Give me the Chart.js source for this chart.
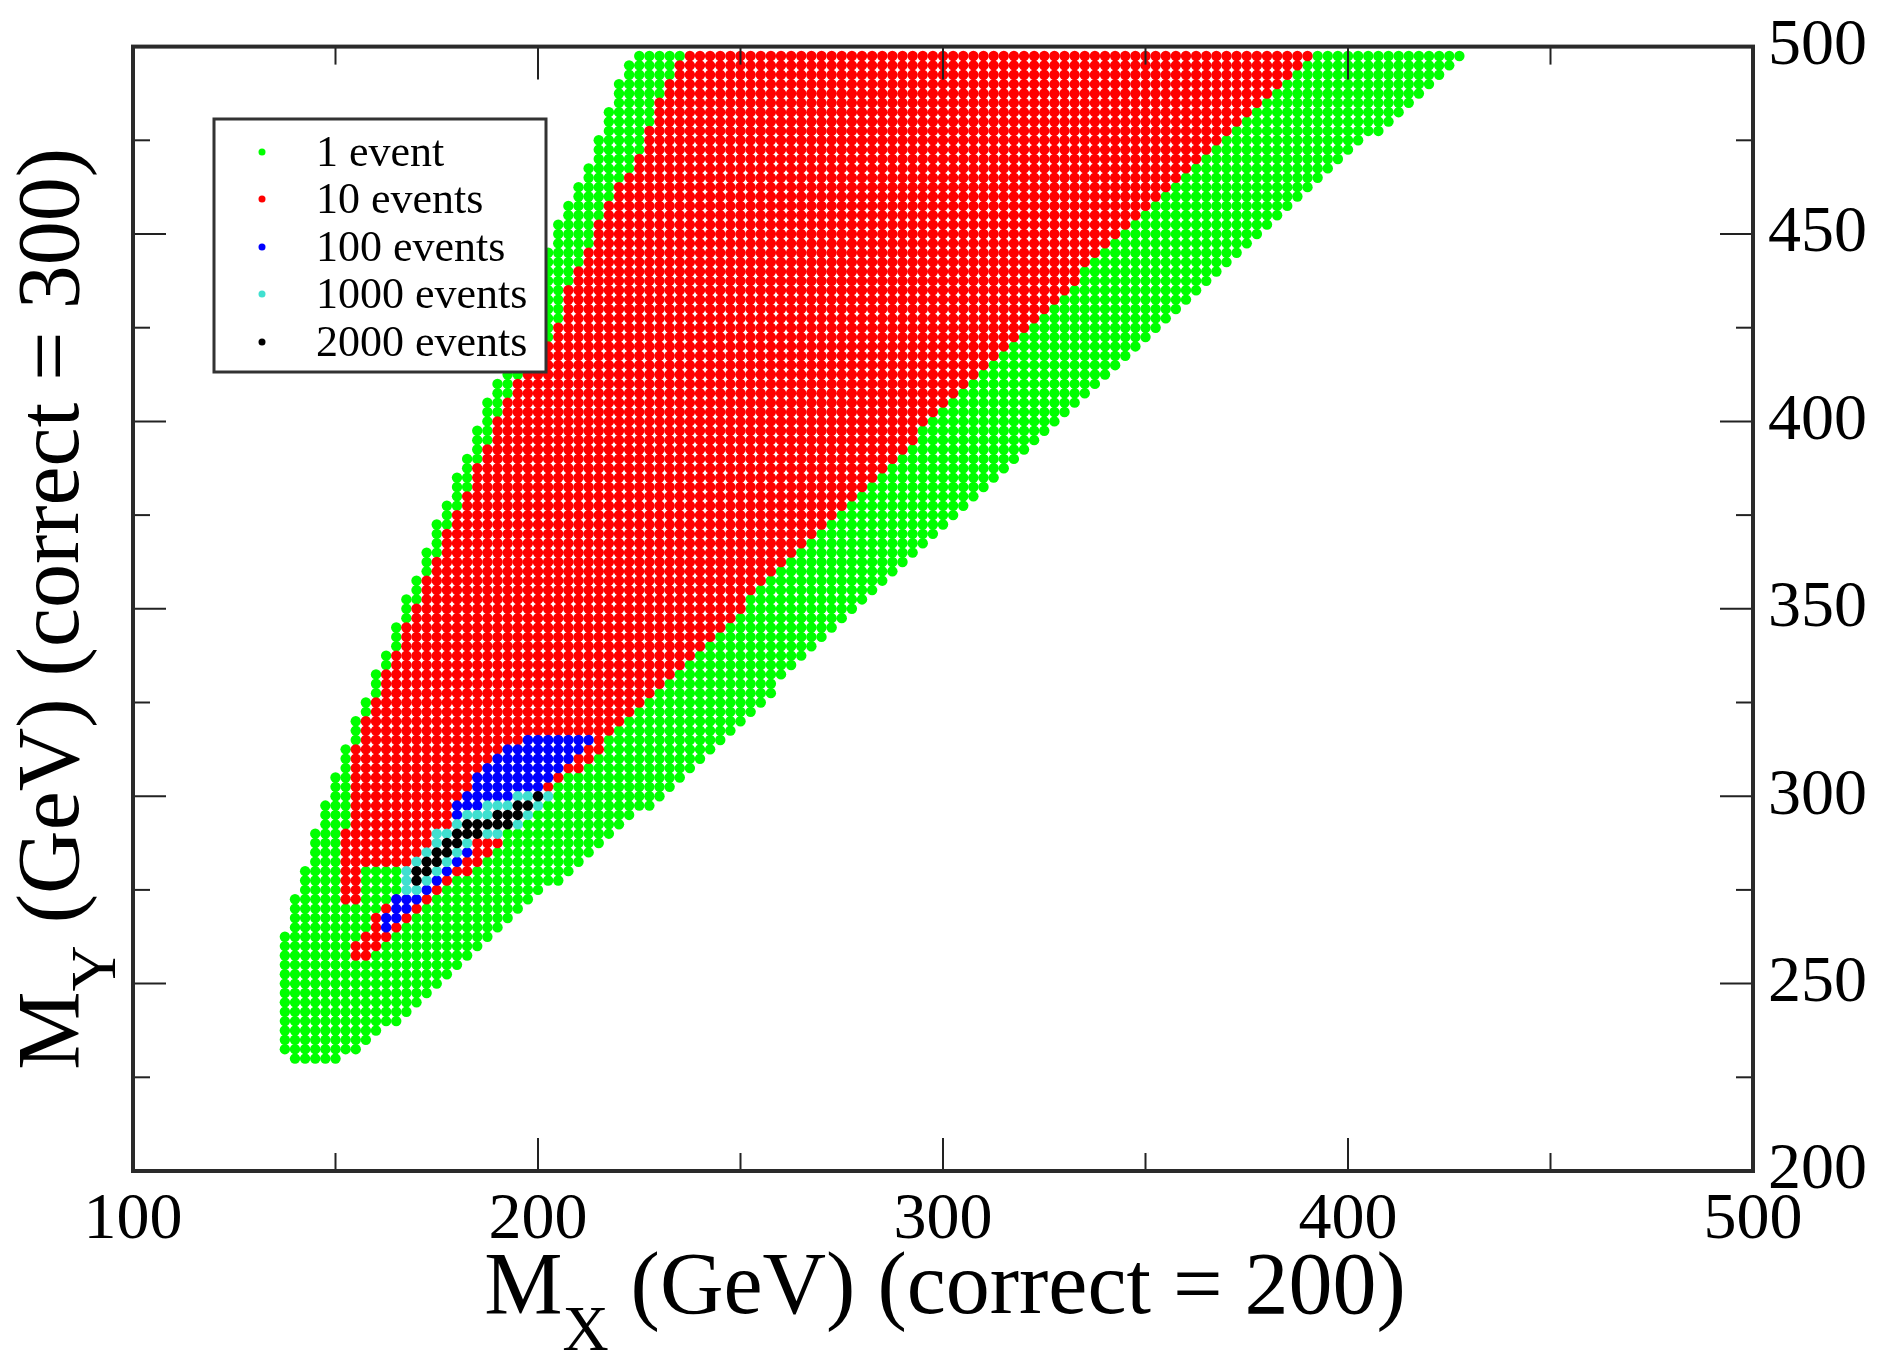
<!DOCTYPE html>
<html>
<head>
<meta charset="utf-8">
<title>M_X vs M_Y scan</title>
<script src="https://cdn.jsdelivr.net/npm/chart.js"></script>
<style>
  html, body { margin: 0; padding: 0; background: #fff; }
  canvas { display: block; }
</style>
</head>
<body>
<canvas id="scanChart" width="1881" height="1352"></canvas>
<script>
// series: number of events needed for each scanned (M_X, M_Y) point
const seriesLabels = ['1 event', '10 events', '100 events', '1000 events', '2000 events'];
const seriesColors = ['#00ff00', '#ff0000', '#0000ff', '#40e0d0', '#000000'];

const xTickValues = [100, 200, 300, 400, 500];
const xMinorTicks = [150, 250, 350, 450];
const yTickValues = [200, 250, 300, 350, 400, 450, 500];
const yMinorTicks = [225, 275, 325, 375, 425, 475];

const xTitleParts = ['M', 'X', ' (GeV) (correct = 200)'];
const yTitleParts = ['M', 'Y', ' (GeV) (correct = 300)'];

// the scan grid (GeV)
const scanStep = 2.5;
const scanXRange = [137.5, 427.5];
const scanYRange = [230, 497.5];

// region outlines, [M_X, M_Y] in GeV
const outline1 = [
  [223.5, 499], [430, 499],
  [378.8, 450], [329.3, 400], [279.8, 350], [226.8, 296.5], [216.1, 287.6], [203.8, 276.2],
  [192.3, 266.5], [186.5, 259.4], [178.3, 251.4], [170, 244], [165.1, 240], [157.7, 233.8],
  [153.6, 231.5], [149.5, 228.8], [138.8, 228.8],
  [136.3, 231.5], [136.3, 257.7], [138.8, 270.4], [141.7, 277.9], [144.1, 288.5], [146.6, 295.6],
  [149.1, 303.1], [151.9, 311], [153.3, 316], [156.9, 324.7], [187.3, 405], [189.5, 410.3],
  [203.5, 448], [206.6, 458], [208.8, 462.4], [214.3, 473], [221, 494]
];
const outline10 = [
  [236, 499], [393, 499],
  [352, 458], [301, 404], [250.5, 350.5], [217, 315.5],
  [215.5, 312.5], [208.5, 306], [205.5, 303.5], [201.5, 298], [198, 296], [194, 291.5],
  [190.5, 288], [186.5, 283.5], [180.5, 278], [175.5, 273],
  [169, 266.5], [163, 262], [158, 256.8], [155, 255.3], [152.8, 255.3],
  [153, 259], [157.5, 264.5], [160.5, 268.5], [164, 273], [166.5, 276], [167, 281],
  [155.8, 281], [155.8, 270.5], [151, 270.5], [151, 291.5], [153.8, 291.5], [153.8, 309],
  [156.5, 318], [159, 325], [193.9, 410.3], [204.9, 425.3], [206, 433.2], [209.4, 441.2],
  [213.2, 448.3], [216.5, 458], [219.8, 462.4], [225.9, 473], [231, 488]
];
const outline100 = [
  [213.5, 317], [200, 316.5], [194, 313.5], [189, 310.5], [185.5, 306], [182.5, 301.5],
  [180, 297.5], [177, 291], [173.5, 287], [170, 281.5], [166.5, 276], [163, 270.5],
  [160.5, 266], [160.5, 262.5], [163.5, 264.5], [167, 268.5], [170.5, 272.5], [174, 276],
  [179, 281], [184, 286.5], [192, 294.5], [199.5, 300.5], [206, 308.5], [213.5, 314.5], [215, 316]
];
const outline1000 = [
  [165.5, 271.5], [170, 274], [174, 278], [177, 281.5], [180.5, 284.5], [185, 287.5],
  [190, 289], [194, 291.5], [199, 295], [203, 299], [202.5, 302.5], [197, 301.5],
  [192, 299.5], [186, 297], [181, 295], [177, 292], [174, 289], [171, 285.5], [168, 282], [166, 277]
];
const outline2000 = [
  [168, 275], [172.5, 278.5], [175.5, 281], [178, 284], [181, 287], [184, 289], [188, 290.5],
  [192, 291.5], [196, 294.5], [201, 298.5], [201, 301.5], [196, 299], [192, 297], [187.5, 294],
  [182, 292.5], [178.5, 290], [176, 287], [173.5, 284], [170.5, 281], [167.5, 278.5]
];

function inside(poly, x, y) {
  let c = false;
  for (let i = 0, j = poly.length - 1; i < poly.length; j = i++) {
    const xi = poly[i][0], yi = poly[i][1], xj = poly[j][0], yj = poly[j][1];
    if ((yi > y) !== (yj > y) && x < (xj - xi) * (y - yi) / (yj - yi) + xi) c = !c;
  }
  return c;
}

// sort each scanned point into the highest region it belongs to
const outlines = [outline1, outline10, outline100, outline1000, outline2000];
const points = outlines.map(() => []);
const nx = Math.round((scanXRange[1] - scanXRange[0]) / scanStep);
const ny = Math.round((scanYRange[1] - scanYRange[0]) / scanStep);
for (let j = 0; j <= ny; j++) {
  const y = scanYRange[0] + j * scanStep;
  for (let i = 0; i <= nx; i++) {
    const x = scanXRange[0] + i * scanStep;
    let level = -1;
    outlines.forEach((poly, k) => { if (inside(poly, x, y)) level = k; });
    if (level >= 0) points[level].push({ x: x, y: y });
  }
}

const serif = "'Liberation Serif', 'DejaVu Serif', serif";

function drawTitle(ctx, parts, cx, baseline) {
  ctx.font = '88px ' + serif;
  const w0 = ctx.measureText(parts[0]).width;
  const w2 = ctx.measureText(parts[2]).width;
  ctx.font = '64px ' + serif;
  const w1 = ctx.measureText(parts[1]).width;
  let x = cx - (w0 + w1 + w2) / 2;
  ctx.textAlign = 'left';
  ctx.textBaseline = 'alphabetic';
  ctx.font = '88px ' + serif;
  ctx.fillText(parts[0], x, baseline);
  x += w0;
  ctx.font = '64px ' + serif;
  ctx.fillText(parts[1], x, baseline + 37);
  x += w1;
  ctx.font = '88px ' + serif;
  ctx.fillText(parts[2], x, baseline);
}

const framePlugin = {
  id: 'frame',
  afterDatasetsDraw(chart) {
    const ctx = chart.ctx;
    const a = chart.chartArea;
    const xs = chart.scales.x, ys = chart.scales.y;
    ctx.save();
    ctx.strokeStyle = '#222';
    ctx.lineWidth = 2;
    const line = (x1, y1, x2, y2) => {
      ctx.beginPath(); ctx.moveTo(x1, y1); ctx.lineTo(x2, y2); ctx.stroke();
    };
    const xTick = (v, len) => {
      const p = xs.getPixelForValue(v);
      line(p, a.bottom, p, a.bottom - len);
      line(p, a.top, p, a.top + len);
    };
    const yTick = (v, len) => {
      const p = ys.getPixelForValue(v);
      line(a.left, p, a.left + len, p);
      line(a.right, p, a.right - len, p);
    };
    xTickValues.forEach(v => xTick(v, 33));
    xMinorTicks.forEach(v => xTick(v, 18));
    yTickValues.forEach(v => yTick(v, 33));
    yMinorTicks.forEach(v => yTick(v, 17));

    ctx.lineWidth = 4;
    ctx.strokeStyle = '#2a2a2a';
    ctx.strokeRect(a.left, a.top, a.right - a.left, a.bottom - a.top);

    // legend box
    ctx.fillStyle = '#fff';
    ctx.fillRect(214, 119, 332, 253);
    ctx.lineWidth = 3;
    ctx.strokeStyle = '#333';
    ctx.strokeRect(214, 119, 332, 253);
    const rows = [152, 199, 247, 294, 342];
    ctx.font = '44px ' + serif;
    ctx.textAlign = 'left';
    ctx.textBaseline = 'middle';
    seriesLabels.forEach((label, k) => {
      ctx.fillStyle = seriesColors[k];
      ctx.beginPath();
      ctx.arc(262, rows[k], 3.5, 0, Math.PI * 2);
      ctx.fill();
      ctx.fillStyle = '#000';
      ctx.fillText(label, 316, rows[k] + 2);
    });
    ctx.restore();
  },
  afterDraw(chart) {
    const ctx = chart.ctx;
    const a = chart.chartArea;
    ctx.save();
    ctx.fillStyle = '#000';
    drawTitle(ctx, xTitleParts, (a.left + a.right) / 2 + 2, 1313);
    ctx.translate(78, (a.top + a.bottom) / 2);
    ctx.rotate(-Math.PI / 2);
    drawTitle(ctx, yTitleParts, 0, 0);
    ctx.restore();
  }
};

new Chart(document.getElementById('scanChart'), {
  type: 'scatter',
  data: {
    datasets: seriesLabels.map((label, k) => ({
      label: label,
      data: points[k],
      backgroundColor: seriesColors[k],
      borderWidth: 0,
      pointRadius: 5.2,
      pointHoverRadius: 5.2,
      order: seriesLabels.length - k
    }))
  },
  options: {
    responsive: false,
    animation: false,
    events: [],
    layout: { autoPadding: false, padding: { left: 133, top: 36, right: 0, bottom: 0 } },
    plugins: { legend: { display: false }, tooltip: { enabled: false } },
    scales: {
      x: {
        type: 'linear',
        min: 100,
        max: 500,
        grid: { display: false },
        border: { display: false },
        afterBuildTicks: s => { s.ticks = xTickValues.map(v => ({ value: v })); },
        afterFit: s => { s.height = 181; },
        ticks: {
          color: '#000',
          font: { family: serif, size: 66 },
          padding: 2,
          maxRotation: 0,
          autoSkip: false
        }
      },
      y: {
        type: 'linear',
        position: 'right',
        min: 200,
        max: 500,
        grid: { display: false },
        border: { display: false },
        afterBuildTicks: s => { s.ticks = yTickValues.map(v => ({ value: v })); },
        afterFit: s => { s.width = 128; },
        ticks: {
          color: '#000',
          font: { family: serif, size: 66 },
          padding: 7,
          autoSkip: false
        }
      }
    }
  },
  plugins: [framePlugin]
});
</script>
</body>
</html>
